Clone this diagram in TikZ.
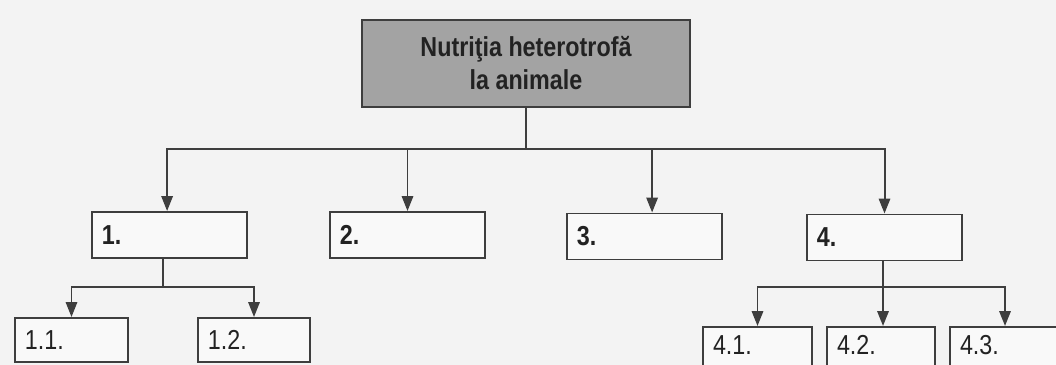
\documentclass[tikz,border=0pt]{standalone}
\usepackage{fontspec}
\setmainfont{Liberation Sans}[FakeStretch=0.85]
\usetikzlibrary{arrows.meta}

\definecolor{linegray}{RGB}{62,62,62}
\definecolor{headgray}{RGB}{163,163,163}
\definecolor{paper}{RGB}{243,243,243}
\definecolor{ink}{RGB}{34,34,34}

\tikzset{
  box/.style={draw=linegray, line width=1.4pt, fill=white!50!paper, text=ink,
    inner xsep=0.25cm, text width=#1, align=left,
    font=\fontsize{19.5}{22}\selectfont},
  head/.style={draw=linegray, line width=1.4pt, fill=headgray, text=ink, align=center,
    minimum width=8.2cm, minimum height=2.175cm,
    font=\fontsize{19.5}{23.5}\selectfont\bfseries},
  open/.style={text height=0.6cm, text depth=0.55cm, inner ysep=0.1cm, anchor=north},
  link/.style={draw=linegray, line width=1.4pt}
}

\begin{document}
\begin{tikzpicture}[>={Triangle[length=10.5pt,width=8pt]}, x=0.025cm, y=-0.025cm]

\useasboundingbox (0,0) rectangle (1056,365);
\clip (0,0) rectangle (1056,365);
\fill[paper] (0,0) rectangle (1056,365);

% title
\node[head] (top) at (526,63.5) {Nutriţia heterotrofă\\la animale};

% first row
\node[box=3.375cm, minimum height=1.15cm, font=\fontsize{19.5}{22}\selectfont\bfseries] (b1) at (169.5,235) {1.};
\node[box=3.375cm, minimum height=1.15cm, font=\fontsize{19.5}{22}\selectfont\bfseries] (b2) at (407.5,235) {2.};
\node[box=3.375cm, minimum height=1.15cm, font=\fontsize{19.5}{22}\selectfont\bfseries] (b3) at (644.5,236.5) {3.};
\node[box=3.375cm, minimum height=1.15cm, font=\fontsize{19.5}{22}\selectfont\bfseries] (b4) at (884.5,237.5) {4.};

% second row
\node[box=2.325cm, minimum height=1.1cm] (b11) at (71.5,340) {1.1.};
\node[box=2.3cm, minimum height=1.1cm] (b12) at (254,340) {1.2.};
\node[box=2.225cm, open] (b41) at (757.5,326) {4.1.};
\node[box=2.2cm, open] (b42) at (881,326) {4.2.};
\node[box=2.25cm, open] (b43) at (1005,326) {4.3.};

\coordinate (bus) at (526,149);
\coordinate (s1) at (163,287);
\coordinate (s4) at (883,287);

\draw[link] (top.south) -- (bus);
\draw[link,->] (bus) -| ([xshift=-0.06cm]b1.north);
\draw[link,->] (bus) -| (b2.north);
\draw[link,->] (bus) -| ([xshift=0.19cm]b3.north);
\draw[link,->] (bus) -| (b4.north);

\draw[link] (b1.south -| s1) -- (s1);
\draw[link,->] (s1) -| (b11.north);
\draw[link,->] (s1) -| (b12.north);

\draw[link] (b4.south -| s4) -- (s4);
\draw[link,->] (s4) -| (b41.north);
\draw[link,->] (s4) -- (b42.north -| s4);
\draw[link,->] (s4) -| (b43.north);

\end{tikzpicture}
\end{document}
